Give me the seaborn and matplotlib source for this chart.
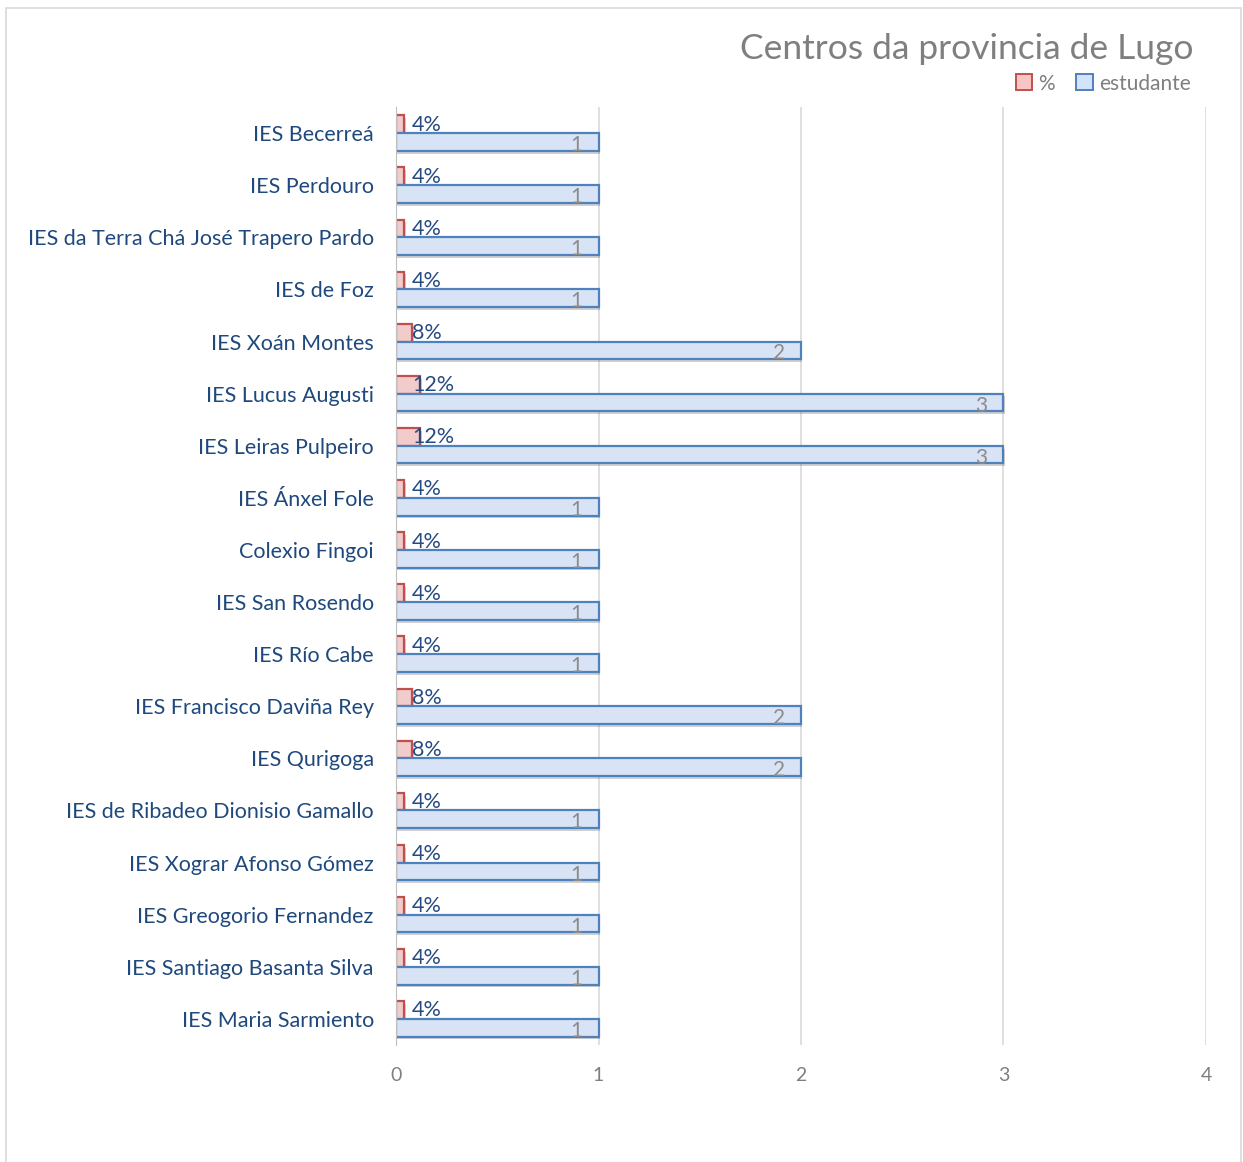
import pandas as pd
import numpy as np
import matplotlib
matplotlib.use("Agg")
import matplotlib.pyplot as plt
import matplotlib.patheffects as pe
from matplotlib.patches import Rectangle, Patch
import seaborn as sns

# ======================================
# DATA
centros = [
    "IES Becerreá", "IES Perdouro", "IES da Terra Chá José Trapero Pardo",
    "IES de Foz", "IES Xoán Montes", "IES Lucus Augusti", "IES Leiras Pulpeiro",
    "IES Ánxel Fole", "Colexio Fingoi", "IES San Rosendo", "IES Río Cabe",
    "IES Francisco Daviña Rey", "IES Qurigoga", "IES de Ribadeo Dionisio Gamallo",
    "IES Xograr Afonso Gómez", "IES Greogorio Fernandez",
    "IES Santiago Basanta Silva", "IES Maria Sarmiento",
]
estudantes = [1, 1, 1, 1, 2, 3, 3, 1, 1, 1, 1, 2, 2, 1, 1, 1, 1, 1]
porcentaxe = [0.04, 0.04, 0.04, 0.04, 0.08, 0.12, 0.12, 0.04, 0.04, 0.04,
              0.04, 0.08, 0.08, 0.04, 0.04, 0.04, 0.04, 0.04]
series = ["%", "estudante"]

df = pd.DataFrame({
    "centro": centros * 2,
    "valor": porcentaxe + estudantes,
    "serie": [series[0]] * len(centros) + [series[1]] * len(centros),
})

# ======================================
# STYLE
sns.set_style("white")
plt.rcParams["font.family"] = ["Lato", "DejaVu Sans"]

fill = {"%": "#f8c4c4", "estudante": "#d3e3fa"}
edge = {"%": "#c0504d", "estudante": "#4f81bd"}

fig = plt.figure(figsize=(12.43, 11.62), dpi=100)
ax = fig.add_axes([0.3186, 0.1007, 0.6516, 0.8072])

sns.barplot(data=df, x="valor", y="centro", hue="serie", hue_order=series,
            palette=fill, width=0.68, orient="h", ax=ax, legend=False)

shadow = [pe.SimplePatchShadow(offset=(1, -2), shadow_rgbFace="#666666", alpha=0.3),
          pe.Normal()]
for cont, s in zip(ax.containers, series):
    for bar in cont:
        bar.set_edgecolor(edge[s])
        bar.set_linewidth(1.6)
        bar.set_path_effects(shadow)

# data labels
pct_cont, est_cont = ax.containers
for bar, v in zip(pct_cont, porcentaxe):
    y = bar.get_y() + bar.get_height()
    ax.text(0.078, y + 0.03, f"{v:.0%}", ha="left", va="bottom",
            fontsize=15.5, color="#254a82")
for bar, v in zip(est_cont, estudantes):
    y = bar.get_y() + bar.get_height() / 2
    ax.text(v - 0.08, y + 0.06, f"{v}", ha="right", va="center",
            fontsize=15, color="#8c8c8c")

ax.set_xlim(0, 4)
ax.set_xticks([0, 1, 2, 3, 4])
ax.xaxis.grid(True, color="#d9d9d9", linewidth=1.2)
ax.set_axisbelow(True)
ax.set_xlabel("")
ax.set_ylabel("")
for sp in ["top", "right", "bottom"]:
    ax.spines[sp].set_visible(False)
ax.spines["left"].set_color("#bfbfbf")
ax.tick_params(axis="x", length=0, pad=16, labelsize=14, labelcolor="#7f7f7f")
ax.tick_params(axis="y", length=0, pad=16, labelsize=15.5, labelcolor="#1f497d")

# title and legend
fig.text(0.960, 0.958, "Centros da provincia de Lugo", ha="right", va="center",
         fontsize=25.5, color="#7f7f7f")
handles = [Patch(facecolor=fill[s], edgecolor=edge[s], linewidth=1.4, label=s) for s in series]
fig.legend(handles=handles, loc="center right", bbox_to_anchor=(0.973, 0.928),
           ncol=2, frameon=False, fontsize=15, labelcolor="#7f7f7f",
           handlelength=0.8, handleheight=0.8, handletextpad=0.3, columnspacing=1.0)

# chart border
fig.patches.append(Rectangle((0.005, -0.01), 0.993, 1.003, transform=fig.transFigure,
                             fill=False, edgecolor="#d9d9d9", linewidth=1.2))

fig.savefig("out.png", dpi=100)
